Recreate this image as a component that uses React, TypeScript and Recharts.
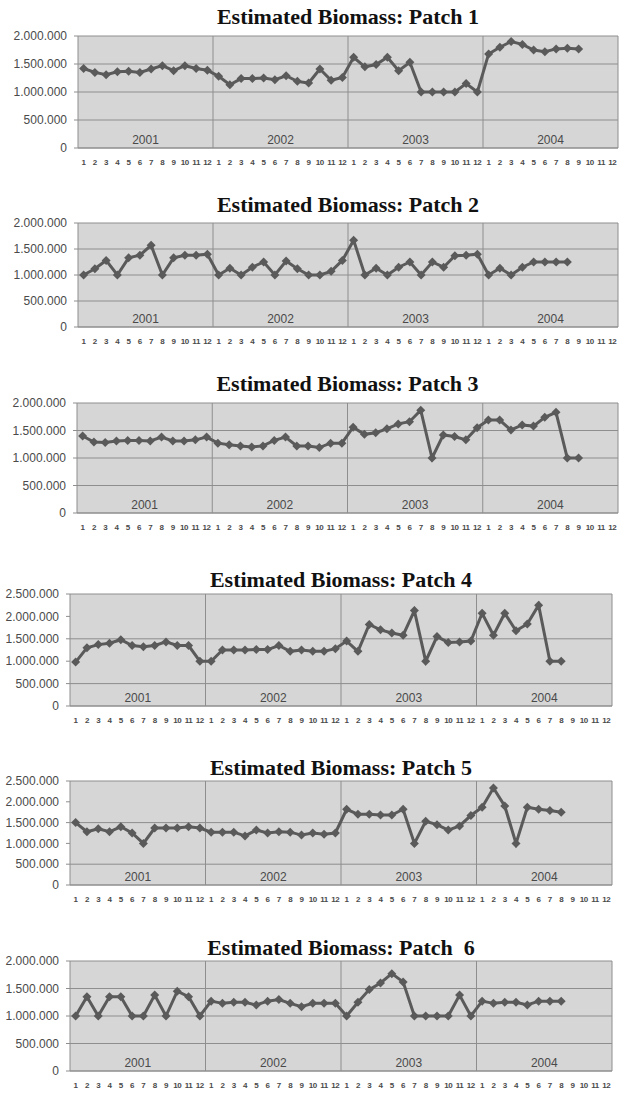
import React from 'react';
import {
  LineChart,
  Line,
  XAxis,
  YAxis,
  CartesianGrid,
  ReferenceLine,
  ReferenceArea,
} from 'recharts';

// Monthly estimated biomass per patch, 2001–2004 (values in millions)
const MONTHS = ['1', '2', '3', '4', '5', '6', '7', '8', '9', '10', '11', '12'];
const YEARS = ['2001', '2002', '2003', '2004'];

const PATCH_1 = [
  1.42, 1.35, 1.31, 1.36, 1.37, 1.35, 1.41, 1.47, 1.38, 1.47, 1.42, 1.39,
  1.28, 1.13, 1.24, 1.24, 1.25, 1.22, 1.29, 1.19, 1.16, 1.41, 1.21, 1.26,
  1.62, 1.45, 1.49, 1.62, 1.38, 1.53, 1.0, 1.0, 1.0, 1.0, 1.15, 1.0,
  1.68, 1.8, 1.9, 1.85, 1.75, 1.72, 1.77, 1.78, 1.77,
];
const PATCH_2 = [
  1.0, 1.12, 1.28, 1.0, 1.33, 1.38, 1.57, 1.0, 1.33, 1.38, 1.38, 1.4,
  1.0, 1.13, 1.0, 1.15, 1.25, 1.0, 1.27, 1.12, 1.0, 1.0, 1.07, 1.28,
  1.67, 1.0, 1.13, 1.0, 1.15, 1.25, 1.0, 1.25, 1.15, 1.37, 1.38, 1.4,
  1.0, 1.13, 1.0, 1.15, 1.25, 1.25, 1.25, 1.25,
];
const PATCH_3 = [
  1.4, 1.29, 1.28, 1.31, 1.32, 1.32, 1.31, 1.38, 1.31, 1.31, 1.33, 1.38,
  1.27, 1.24, 1.22, 1.2, 1.22, 1.32, 1.38, 1.22, 1.22, 1.19, 1.27, 1.27,
  1.56, 1.43, 1.46, 1.53, 1.62, 1.66, 1.87, 1.0, 1.42, 1.39, 1.33, 1.55,
  1.69, 1.69, 1.51, 1.6, 1.58, 1.74, 1.83, 1.0, 1.0,
];
const PATCH_4 = [
  0.98, 1.3, 1.37, 1.4, 1.48, 1.35, 1.32, 1.35, 1.43, 1.35, 1.35, 1.0,
  1.0, 1.25, 1.25, 1.25, 1.26, 1.26, 1.35, 1.22, 1.25, 1.22, 1.22, 1.28,
  1.45, 1.22, 1.82, 1.7, 1.63, 1.58, 2.13, 1.0, 1.55, 1.42, 1.43, 1.45,
  2.07, 1.58, 2.07, 1.68, 1.83, 2.25, 1.0, 1.0,
];
const PATCH_5 = [
  1.5, 1.28, 1.35, 1.28, 1.4, 1.25, 1.0, 1.37, 1.37, 1.37, 1.4, 1.37,
  1.27, 1.27, 1.27, 1.18, 1.32, 1.25, 1.28, 1.27, 1.2, 1.25, 1.22, 1.25,
  1.82, 1.7, 1.7, 1.68, 1.68, 1.82, 1.0, 1.53, 1.45, 1.32, 1.42, 1.67,
  1.87, 2.33, 1.9, 1.0, 1.87, 1.82, 1.79, 1.75,
];
const PATCH_6 = [
  1.0, 1.35, 1.0, 1.35, 1.35, 1.0, 1.0, 1.38, 1.0, 1.45, 1.35, 1.0,
  1.27, 1.23, 1.25, 1.25, 1.2, 1.27, 1.3, 1.23, 1.17, 1.23, 1.23, 1.23,
  1.0, 1.25, 1.48, 1.6, 1.77, 1.62, 1.0, 1.0, 1.0, 1.0, 1.38, 1.0,
  1.27, 1.23, 1.25, 1.25, 1.2, 1.27, 1.27, 1.27,
];

const TICKS_2M = [0, 500000, 1000000, 1500000, 2000000];
const TICKS_25M = [0, 500000, 1000000, 1500000, 2000000, 2500000];

const PANELS = [
  { title: 'Estimated Biomass: Patch 1', values: PATCH_1, ticks: TICKS_2M, top: 36, bottom: 148, left: 78, right: 618, titleY: 17 },
  { title: 'Estimated Biomass: Patch 2', values: PATCH_2, ticks: TICKS_2M, top: 223, bottom: 327, left: 78, right: 618, titleY: 205 },
  { title: 'Estimated Biomass: Patch 3', values: PATCH_3, ticks: TICKS_2M, top: 403, bottom: 513, left: 77, right: 618, titleY: 384 },
  { title: 'Estimated Biomass: Patch 4', values: PATCH_4, ticks: TICKS_25M, top: 594, bottom: 706, left: 70, right: 612, titleY: 580 },
  { title: 'Estimated Biomass: Patch 5', values: PATCH_5, ticks: TICKS_25M, top: 781, bottom: 885, left: 70, right: 612, titleY: 768 },
  { title: 'Estimated Biomass: Patch  6', values: PATCH_6, ticks: TICKS_2M, top: 961, bottom: 1071, left: 70, right: 612, titleY: 948 },
];

const BG = '#d6d6d6';
const GRID = '#8e8e8e';
const LINE = '#5a5a5a';
const TEXT = '#4a4a4a';

const fmt = (n: number) => String(n).replace(/\B(?=(\d{3})+(?!\d))/g, '.');

function buildRows(values: number[]) {
  return YEARS.flatMap((_, yi) =>
    MONTHS.map((_m, mi) => {
      const v = values[yi * 12 + mi];
      return { x: yi * 12 + mi + 0.5, value: v == null ? null : v * 1000000 };
    })
  );
}

const Diamond = (props: any) => {
  const { cx, cy, payload, index } = props;
  if (payload?.value == null || cx == null || cy == null) return <g key={`d-${index}`} />;
  const r = 4.5;
  return (
    <polygon
      key={`d-${index}`}
      points={`${cx},${cy - r} ${cx + r},${cy} ${cx},${cy + r} ${cx - r},${cy}`}
      fill={LINE}
    />
  );
};

function Panel({ p }: { p: (typeof PANELS)[number] }) {
  const rows = buildRows(p.values);
  const mt = 8;
  const xh = 24;
  const h = mt + (p.bottom - p.top) + xh;
  const maxY = p.ticks[p.ticks.length - 1];
  return (
    <>
      <div
        style={{
          position: 'absolute',
          top: p.titleY - 13,
          left: p.left,
          width: p.right - p.left,
          textAlign: 'center',
          fontFamily: '"Liberation Serif", serif',
          fontWeight: 'bold',
          fontSize: 22,
          lineHeight: '26px',
          color: '#111',
          whiteSpace: 'pre',
        }}
      >
        {p.title}
      </div>
      <div style={{ position: 'absolute', top: p.top - mt, left: 0 }}>
        <LineChart
          width={619}
          height={h}
          data={rows}
          margin={{ top: mt, right: 619 - p.right, bottom: 0, left: 0 }}
        >
          <CartesianGrid horizontal vertical={false} fill={BG} stroke={GRID} strokeWidth={1} />
          <XAxis
            type="number"
            dataKey="x"
            domain={[0, 48]}
            ticks={rows.map((r) => r.x)}
            interval={0}
            tickFormatter={(x: number) => MONTHS[Math.floor(x) % 12]}
            tickLine={false}
            tickSize={0}
            tickMargin={11}
            axisLine={{ stroke: GRID }}
            height={xh}
            tick={{ fontFamily: '"Liberation Sans", sans-serif', fontSize: 8, fontWeight: 'bold', fill: TEXT, letterSpacing: -0.4 }}
          />
          <YAxis
            domain={[0, maxY]}
            ticks={p.ticks}
            tickFormatter={fmt}
            width={p.left}
            axisLine={{ stroke: GRID }}
            tickLine={{ stroke: GRID }}
            tickSize={4}
            tickMargin={7}
            tick={{ fontFamily: '"Liberation Sans", sans-serif', fontSize: 12, fill: TEXT }}
          />
          {YEARS.map((y, yi) => (
            <ReferenceArea
              key={y}
              x1={yi * 12}
              x2={(yi + 1) * 12}
              fill="none"
              fillOpacity={0}
              stroke="none"
              label={{ value: y, position: 'insideBottom', offset: 4, fill: TEXT, fontSize: 12, fontFamily: '"Liberation Sans", sans-serif' }}
            />
          ))}
          {[12, 24, 36].map((x) => (
            <ReferenceLine key={x} x={x} stroke={GRID} strokeWidth={1} />
          ))}
          <ReferenceLine x={48} stroke={GRID} strokeWidth={1} />
          <Line
            type="linear"
            dataKey="value"
            stroke={LINE}
            strokeWidth={3}
            dot={Diamond}
            activeDot={false}
            isAnimationActive={false}
            connectNulls={false}
          />
        </LineChart>
      </div>
    </>
  );
}

export default function App() {
  return (
    <div style={{ position: 'absolute', top: 0, left: 0, width: 619, height: 1097, background: '#fff' }}>
      {PANELS.map((p) => (
        <Panel key={p.title} p={p} />
      ))}
    </div>
  );
}
